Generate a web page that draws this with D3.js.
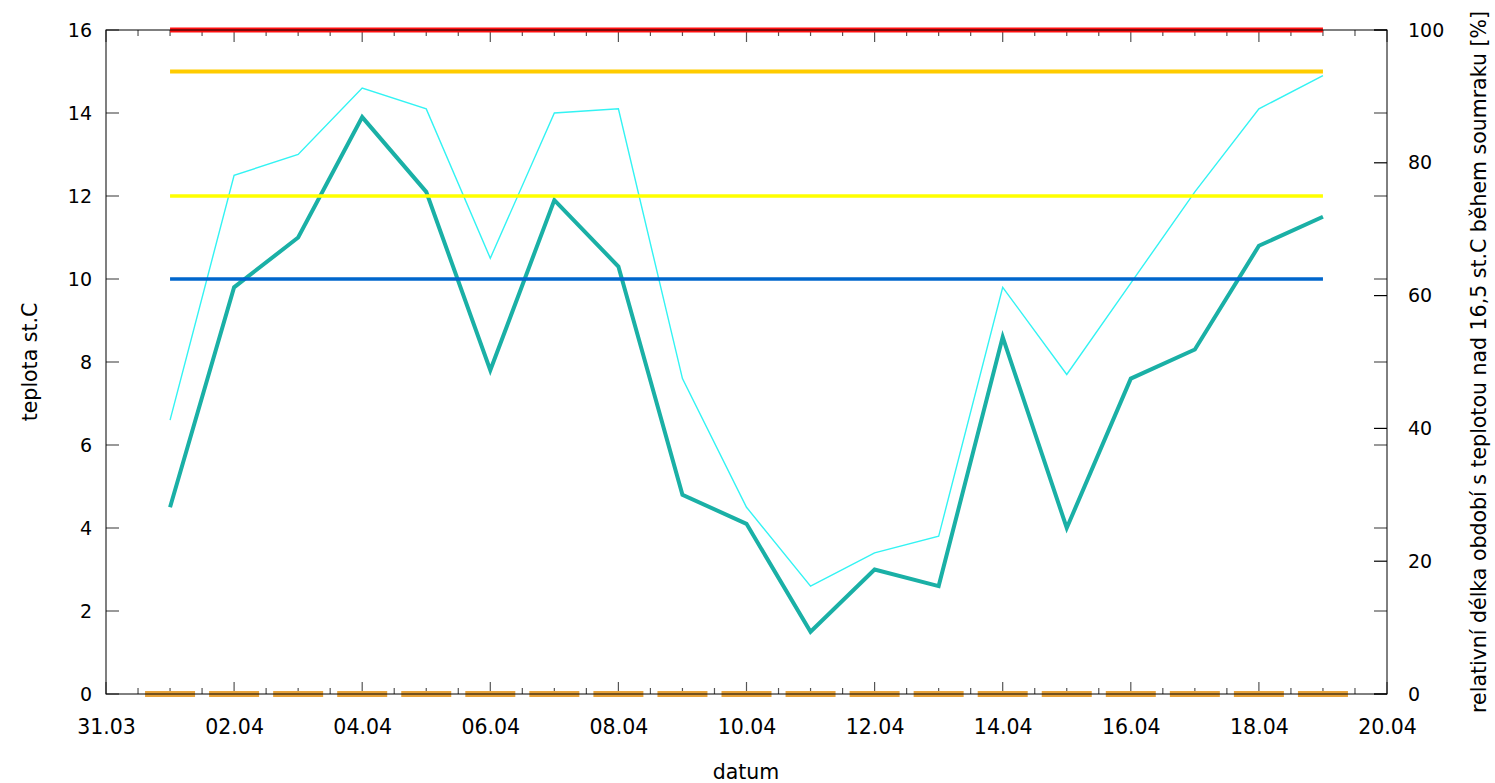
<!DOCTYPE html>
<html><head><meta charset="utf-8">
<script src="https://cdn.jsdelivr.net/npm/d3@7/dist/d3.min.js"></script>
<style>
body{margin:0;background:#fff;overflow:hidden}
text{font-family:"DejaVu Sans",Verdana,sans-serif;fill:#000}
</style>
</head><body>
<svg id="chart" width="1495" height="783"></svg>
<script>
// ---- data ----
const days = ["2023-04-01","2023-04-02","2023-04-03","2023-04-04","2023-04-05","2023-04-06","2023-04-07","2023-04-08","2023-04-09","2023-04-10","2023-04-11","2023-04-12","2023-04-13","2023-04-14","2023-04-15","2023-04-16","2023-04-17","2023-04-18","2023-04-19"];
const tempMain = [4.5, 9.8, 11.0, 13.9, 12.1, 7.8, 11.9, 10.3, 4.8, 4.1, 1.5, 3.0, 2.6, 8.6, 4.0, 7.6, 8.3, 10.8, 11.5];
const tempThin = [6.6, 12.5, 13.0, 14.6, 14.1, 10.5, 14.0, 14.1, 7.6, 4.5, 2.6, 3.4, 3.8, 9.8, 7.7, 9.9, 12.1, 14.1, 14.9];
const relPercent = [0, 0, 0, 0, 0, 0, 0, 0, 0, 0, 0, 0, 0, 0, 0, 0, 0, 0, 0];
const thresholdValues = [10, 12, 15, 16];
const thresholdColors = ["#0066cc", "#ffff00", "#ffcc00", "#ff1010"];
const thresholdWidths = [3.5, 3.5, 4, 5];
const xDomain = ["2023-03-31", "2023-04-20"];
const yTicks = [0, 2, 4, 6, 8, 10, 12, 14, 16];
const y2Ticks = [0, 20, 40, 60, 80, 100];
const xLabel = "datum";
const yLabel = "teplota st.C";
const y2Label = "relativní délka období s teplotou nad 16,5 st.C během soumraku [%]";

// ---- layout ----
const L = 106, R = 1387, T = 30, B = 694;
const parse = d3.utcParse("%Y-%m-%d");
const svg = d3.select("#chart");
const x0 = parse(xDomain[0]), x1 = parse(xDomain[1]);

const x = d3.scaleUtc().domain([x0, x1]).range([L, R]);
const y = d3.scaleLinear().domain([0, 16]).range([B, T]);
const y2 = d3.scaleLinear().domain([0, 100]).range([B, T]);

const fmt = d3.utcFormat("%d.%m");
const majorX = d3.utcDay.range(x0, d3.utcDay.offset(x1, 1)).filter(d => d3.utcDay.count(x0, d) % 2 === 0);
const minorX = d3.utcHour.every(12).range(x0, d3.utcHour.offset(x1, 1));

const tickColor = "#555";

// bottom axis (major labels)
const xAxisB = d3.axisBottom(x).tickValues(majorX).tickFormat(fmt).tickSize(0).tickPadding(0);
const gxb = svg.append("g").attr("transform", `translate(0,${B})`).call(xAxisB);
gxb.select(".domain").remove();
gxb.selectAll("text").attr("font-size", 20.5).attr("y", 40).attr("dy", 0).style("font-family", "DejaVu Sans");

// ticks (inward, mirrored)
const ticksG = svg.append("g").attr("stroke", tickColor).attr("stroke-width", 1.2);
minorX.forEach(d => {
  const isMajor = majorX.some(m => +m === +d);
  const len = isMajor ? 12 : 6;
  ticksG.append("line").attr("x1", x(d)).attr("x2", x(d)).attr("y1", B).attr("y2", B - len);
  ticksG.append("line").attr("x1", x(d)).attr("x2", x(d)).attr("y1", T).attr("y2", T + len);
});
yTicks.forEach(v => {
  ticksG.append("line").attr("x1", L).attr("x2", L + 13).attr("y1", y(v)).attr("y2", y(v));
  ticksG.append("line").attr("x1", R).attr("x2", R - 13).attr("y1", y(v)).attr("y2", y(v));
});
y2Ticks.forEach(v => {
  ticksG.append("line").attr("x1", R).attr("x2", R - 13).attr("y1", y2(v)).attr("y2", y2(v)).attr("stroke", "#000");
});

// left axis labels
const yAxis = d3.axisLeft(y).tickValues(yTicks).tickSize(0).tickPadding(14);
const gy = svg.append("g").attr("transform", `translate(${L},0)`).call(yAxis);
gy.select(".domain").remove();
gy.selectAll("text").attr("font-size", 19).style("font-family", "DejaVu Sans");

// right axis labels
const y2Axis = d3.axisRight(y2).tickValues(y2Ticks).tickSize(0).tickPadding(21);
const gy2 = svg.append("g").attr("transform", `translate(${R},0)`).call(y2Axis);
gy2.select(".domain").remove();
gy2.selectAll("text").attr("font-size", 19).style("font-family", "DejaVu Sans");

// data lines
const pts = days.map(parse);
const line = d3.line().x((d, i) => x(pts[i])).y(d => y(d));
svg.append("path").datum(tempThin).attr("d", line).attr("fill", "none")
  .attr("stroke", "#33f3f3").attr("stroke-width", 1.4).attr("stroke-linejoin", "miter");
svg.append("path").datum(tempMain).attr("d", line).attr("fill", "none")
  .attr("stroke", "#1ab0a6").attr("stroke-width", 4).attr("stroke-linejoin", "miter");

// threshold lines
thresholdValues.forEach((v, k) => {
  svg.append("line")
    .attr("x1", x(pts[0])).attr("x2", x(pts[pts.length - 1]))
    .attr("y1", y(v)).attr("y2", y(v))
    .attr("stroke", thresholdColors[k]).attr("stroke-width", thresholdWidths[k]);
});

// percentage bars (zero height boxes)
const halfW = 25;
svg.append("g").selectAll("line").data(relPercent).join("line")
  .attr("x1", (d, i) => x(pts[i]) - halfW).attr("x2", (d, i) => x(pts[i]) + halfW)
  .attr("y1", d => y2(d)).attr("y2", d => y2(d))
  .attr("stroke", "#e8a33a").attr("stroke-width", 6);

// border
svg.append("rect").attr("x", L).attr("y", T).attr("width", R - L).attr("height", B - T)
  .attr("fill", "none").attr("stroke", "#000").attr("stroke-width", 1);

// axis titles
svg.append("text").attr("x", 746).attr("y", 779).attr("text-anchor", "middle")
  .attr("font-size", 20.5).text(xLabel);
svg.append("text").attr("transform", `translate(37,${(T + B) / 2}) rotate(-90)`)
  .attr("text-anchor", "middle").attr("font-size", 20.5).text(yLabel);
svg.append("text").attr("transform", `translate(1486,${(T + B) / 2}) rotate(-90)`)
  .attr("text-anchor", "middle").attr("font-size", 20.5).text(y2Label);
</script>
</body></html>
